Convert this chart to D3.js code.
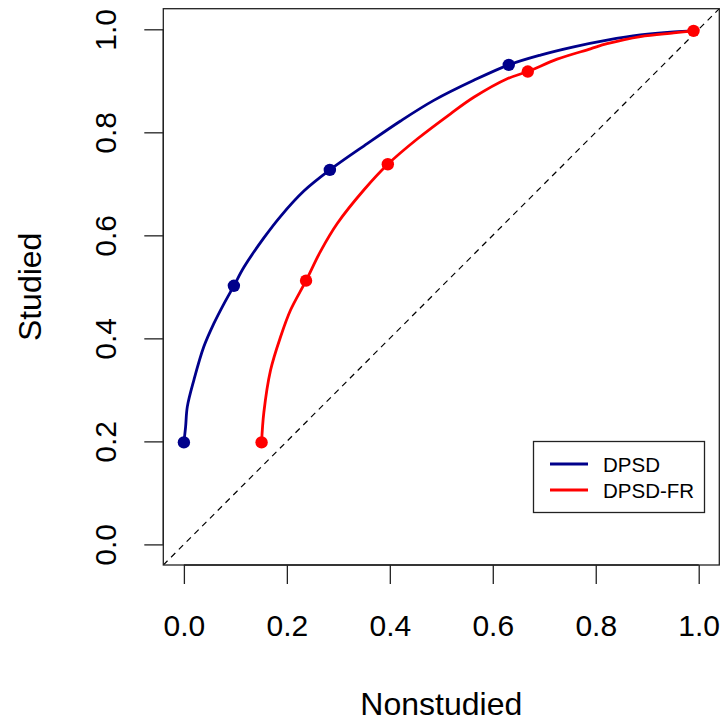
<!DOCTYPE html>
<html>
<head>
<meta charset="utf-8">
<script src="https://cdn.jsdelivr.net/npm/d3@7"></script>
<style>
  html, body { margin: 0; padding: 0; background: #fff; }
  svg { display: block; font-family: "Liberation Sans", Arial, sans-serif; }
</style>
</head>
<body>
<svg id="chart" width="724" height="722"></svg>
<script>
// ---- data ----
const seriesNames = ["DPSD", "DPSD-FR"];
const seriesColors = ["#00008B", "#FF0000"];

const dpsdX = [0.000, 0.0033, 0.0066, 0.0194, 0.0388, 0.0583, 0.0777, 0.0971, 0.1165, 0.1553, 0.1878, 0.2330, 0.2835, 0.3561, 0.4208, 0.4854, 0.5631, 0.6311, 0.6926, 0.7573, 0.8221, 0.8868, 0.9515, 0.990];
const dpsdY = [0.198, 0.228, 0.267, 0.319, 0.384, 0.429, 0.467, 0.502, 0.538, 0.595, 0.637, 0.686, 0.727, 0.778, 0.822, 0.862, 0.901, 0.931, 0.950, 0.966, 0.979, 0.989, 0.995, 0.997];
const dpsdPtX = [0.0, 0.0971, 0.2835, 0.6311];
const dpsdPtY = [0.198, 0.502, 0.727, 0.931];

const frX = [0.1509, 0.1553, 0.1683, 0.1878, 0.2072, 0.2373, 0.2654, 0.2979, 0.3495, 0.3961, 0.4532, 0.5179, 0.5631, 0.6280, 0.6680, 0.7250, 0.7897, 0.8221, 0.8868, 0.9515, 0.990];
const frY = [0.198, 0.256, 0.338, 0.403, 0.455, 0.512, 0.569, 0.623, 0.688, 0.738, 0.787, 0.836, 0.868, 0.904, 0.918, 0.942, 0.962, 0.972, 0.986, 0.993, 0.997];
const frPtX = [0.1509, 0.2373, 0.3961, 0.6680, 0.990];
const frPtY = [0.198, 0.512, 0.738, 0.918, 0.997];

const xTicks = [0, 0.2, 0.4, 0.6, 0.8, 1.0];
const yTicks = [0, 0.2, 0.4, 0.6, 0.8, 1.0];
const xTitle = "Nonstudied";
const yTitle = "Studied";

// ---- layout ----
const svg = d3.select("#chart");
const pL = 163.3, pR = 719.3, pT = 8.7, pB = 565;
const x = d3.scaleLinear().domain([-0.04, 1.04]).range([pL, pR]);
const y = d3.scaleLinear().domain([-0.04, 1.04]).range([pB, pT]);

svg.append("defs").append("clipPath").attr("id", "clip")
  .append("rect").attr("x", pL).attr("y", pT).attr("width", pR - pL).attr("height", pB - pT);

// diagonal reference
svg.append("line")
  .attr("clip-path", "url(#clip)")
  .attr("x1", x(-0.04)).attr("y1", y(-0.04))
  .attr("x2", x(1.04)).attr("y2", y(1.04))
  .attr("stroke", "#000").attr("stroke-width", 1.2)
  .attr("stroke-dasharray", "6,5");

const line = d3.line().x(d => x(d[0])).y(d => y(d[1])).curve(d3.curveCatmullRom.alpha(0.5));

const series = [
  { xs: dpsdX, ys: dpsdY, px: dpsdPtX, py: dpsdPtY, color: seriesColors[0] },
  { xs: frX, ys: frY, px: frPtX, py: frPtY, color: seriesColors[1] }
];

series.forEach(s => {
  const pts = s.xs.map((v, i) => [v, s.ys[i]]);
  svg.append("path").attr("d", line(pts))
    .attr("fill", "none").attr("stroke", s.color).attr("stroke-width", 2.8)
    .attr("stroke-linejoin", "round").attr("stroke-linecap", "round");
});
series.forEach(s => {
  svg.selectAll(null).data(s.px.map((v, i) => [v, s.py[i]])).enter()
    .append("circle")
    .attr("cx", d => x(d[0])).attr("cy", d => y(d[1])).attr("r", 6.2)
    .attr("fill", s.color);
});

// frame
svg.append("rect").attr("x", pL).attr("y", pT).attr("width", pR - pL).attr("height", pB - pT)
  .attr("fill", "none").attr("stroke", "#222").attr("stroke-width", 1.3);

// x axis
const xAxis = svg.append("g").attr("transform", `translate(0,${pB})`)
  .call(d3.axisBottom(x).tickValues(xTicks).tickSize(19).tickFormat(d3.format(".1f")));
xAxis.select(".domain").attr("d", `M${x(0)},0H${x(1)}`).attr("stroke", "#222").attr("stroke-width", 1.3);
xAxis.selectAll(".tick line").attr("stroke", "#222").attr("stroke-width", 1.3);
xAxis.selectAll(".tick text").attr("y", 71).attr("dy", null).attr("font-size", 30)
  .attr("font-family", "Liberation Sans, Arial, sans-serif").attr("fill", "#000");

// y axis
const yAxis = svg.append("g").attr("transform", `translate(${pL},0)`)
  .call(d3.axisLeft(y).tickValues(yTicks).tickSize(19).tickFormat(d3.format(".1f")));
yAxis.select(".domain").attr("d", `M0,${y(0)}V${y(1)}`).attr("stroke", "#222").attr("stroke-width", 1.3);
yAxis.selectAll(".tick line").attr("stroke", "#222").attr("stroke-width", 1.3);
yAxis.selectAll(".tick text")
  .attr("x", null).attr("dy", null)
  .attr("transform", "translate(-47,0) rotate(-90)")
  .attr("text-anchor", "middle").attr("y", 0)
  .attr("font-size", 30).attr("font-family", "Liberation Sans, Arial, sans-serif").attr("fill", "#000");

// titles
svg.append("text").attr("x", (x(0) + x(1)) / 2).attr("y", 715)
  .attr("text-anchor", "middle").attr("font-size", 32).text(xTitle);
svg.append("text").attr("transform", `translate(41,${(y(0) + y(1)) / 2}) rotate(-90)`)
  .attr("text-anchor", "middle").attr("font-size", 32).text(yTitle);

// legend
const lg = svg.append("g");
lg.append("rect").attr("x", 533.5).attr("y", 441.5).attr("width", 171).attr("height", 71)
  .attr("fill", "#fff").attr("stroke", "#222").attr("stroke-width", 1.3);
seriesNames.forEach((n, i) => {
  const yy = 464 + i * 26;
  lg.append("line").attr("x1", 550).attr("x2", 588).attr("y1", yy).attr("y2", yy)
    .attr("stroke", seriesColors[i]).attr("stroke-width", 2.8);
  lg.append("text").attr("x", 603).attr("y", yy + 7.5).attr("font-size", 20.5).text(n);
});
</script>
</body>
</html>
